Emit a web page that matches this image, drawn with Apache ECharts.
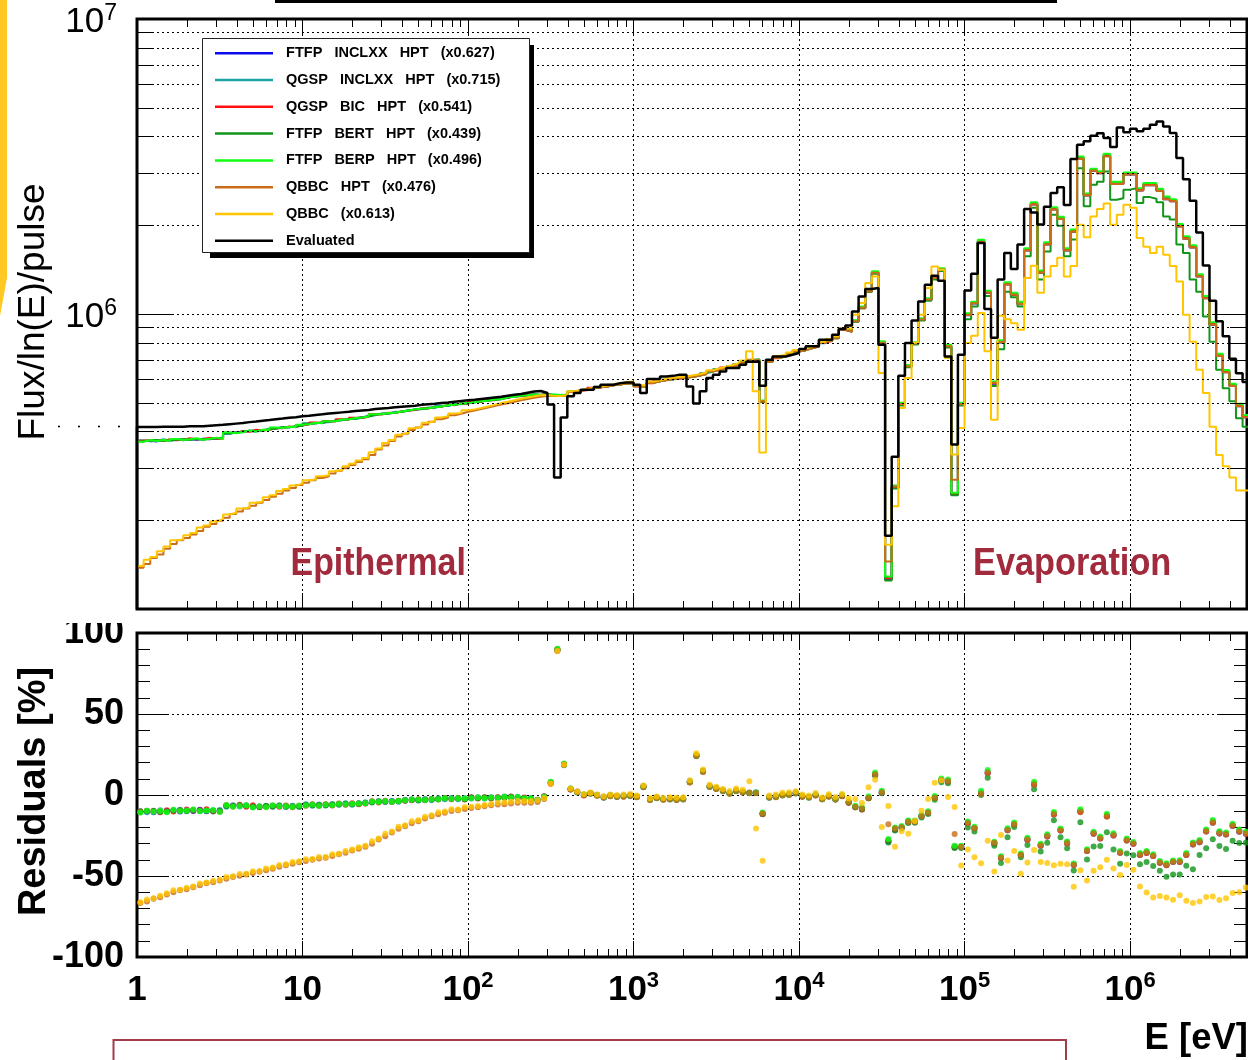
<!DOCTYPE html>
<html>
<head>
<meta charset="utf-8">
<title>Neutron flux: Geant4 physics lists vs evaluated spectrum</title>
<script src="https://cdn.jsdelivr.net/npm/echarts@6/dist/echarts.min.js"></script>
<style>
  html, body { margin: 0; padding: 0; background: #fff; }
  #chart { width: 1248px; height: 1060px; }
</style>
</head>
<body>
<div id="chart"></div>
<script>
// Logarithmic energy binning: 25 bins per decade starting at 1 eV.
const BINS_PER_DECADE = 25;
// Flux arrays below are Flux/ln(E)/pulse per bin, in units of 1e5.
const UNIT = 1e5;
const X_MIN = 1, X_MAX = 5.09e6;
const Y_MIN = 1e5, Y_MAX = 1e7;

const EVALUATED = [
  4.14,4.14,4.14,4.15,4.15,4.15,4.15,4.16,4.16,4.16,4.18,4.20,4.21,4.23,4.25,4.27,4.30,4.32,4.35,4.37,4.40,4.42,4.45,4.47,4.50,
  4.52,4.55,4.57,4.60,4.62,4.64,4.66,4.69,4.71,4.73,4.76,4.78,4.80,4.83,4.85,4.87,4.89,4.92,4.94,4.96,4.99,5.01,5.04,5.07,5.10,
  5.12,5.15,5.18,5.21,5.24,5.28,5.32,5.36,5.41,5.46,5.48,5.40,4.93,2.79,4.46,5.26,5.40,5.54,5.54,5.66,5.76,5.76,5.83,5.86,5.86,
  5.76,5.40,6.02,6.02,6.14,6.17,6.23,6.23,5.68,4.97,5.47,6.07,6.23,6.39,6.56,6.56,6.73,6.89,6.90,5.71,7.00,7.18,7.18,7.28,7.38,
  7.61,7.77,7.77,8.18,8.18,8.51,8.90,9.15,10.2,11.47,12.15,12.25,7.87,1.77,3.28,6.18,7.98,9.51,11.03,12.57,13.49,12.97,7.18,3.61,7.28,
  12.02,13.69,17.4,10.4,8.3,13.1,16.1,14.2,17.2,22.7,22.1,20.1,23.1,25.7,26.9,23.4,33.5,37.5,38.5,40.2,41.0,39.5,36.8,42.9,41.3,
  42.5,41.6,42.5,43.8,44.9,43.2,41.1,33.8,28.6,24.2,18.9,14.6,11.1,9.45,8.40,7.05,6.30,5.88
];

const FTFP_INCLXX_HPT = [
  3.71,3.72,3.70,3.73,3.74,3.76,3.73,3.77,3.75,3.78,3.76,3.80,3.79,3.95,3.97,3.99,4.01,4.00,4.04,4.06,4.10,4.12,4.14,4.15,4.19,
  4.24,4.27,4.28,4.32,4.34,4.38,4.40,4.43,4.47,4.50,4.56,4.58,4.61,4.64,4.66,4.72,4.74,4.77,4.80,4.82,4.87,4.90,4.93,4.96,4.98,
  5.03,5.06,5.09,5.12,5.15,5.21,5.25,5.28,5.31,5.33,5.30,5.35,5.30,5.28,5.30,5.45,5.50,5.54,5.60,5.65,5.68,5.74,5.78,5.82,5.84,
  5.70,5.68,5.85,5.92,5.98,6.02,6.06,6.08,6.14,6.18,6.27,6.39,6.48,6.56,6.63,6.73,6.85,6.98,7.00,5.05,6.90,7.10,7.18,7.30,7.47,
  7.55,7.66,7.77,7.98,8.12,8.29,8.85,8.73,9.44,10.48,11.93,13.77,7.98,1.26,2.57,4.93,6.64,7.93,9.57,11.18,13.24,14.13,7.77,2.44,4.93,
  9.9,10.85,17.55,11.8,5.8,8.0,12.6,11.6,10.8,16.4,23.5,13.8,17.2,22.6,21.0,16.4,19.0,33.6,25.2,30.6,30.0,34.3,27.6,27.6,29.7,
  29.7,26.2,27.3,27.3,26.1,24.5,24.1,19.8,18.0,16.8,13.4,11.3,9.20,7.2,6.35,5.7,4.87,4.47
];

const QGSP_INCLXX_HPT = [
  3.73,3.70,3.72,3.76,3.72,3.74,3.77,3.74,3.78,3.74,3.79,3.77,3.82,3.92,3.98,3.97,4.03,4.02,4.02,4.08,4.08,4.14,4.12,4.17,4.17,
  4.26,4.25,4.30,4.30,4.36,4.36,4.42,4.41,4.45,4.52,4.54,4.60,4.59,4.66,4.65,4.70,4.76,4.75,4.82,4.80,4.89,4.88,4.95,4.94,5.00,
  5.01,5.08,5.07,5.14,5.13,5.23,5.23,5.30,5.29,5.35,5.32,5.33,5.32,5.30,5.28,5.47,5.48,5.56,5.58,5.67,5.66,5.76,5.76,5.84,5.82,
  5.72,5.66,5.87,5.90,6.00,6.00,6.08,6.06,6.16,6.16,6.29,6.37,6.50,6.54,6.65,6.71,6.87,6.96,7.02,5.07,6.88,7.12,7.16,7.32,7.45,
  7.57,7.64,7.79,7.96,8.14,8.27,8.88,8.75,9.48,10.52,11.97,13.85,8.04,1.28,2.60,4.97,6.70,7.98,9.62,11.25,13.32,14.2,7.82,2.47,4.98,
  10.0,10.95,17.7,11.9,5.86,8.1,12.7,11.7,10.9,16.6,23.7,13.95,17.4,22.8,21.2,16.6,19.2,33.9,25.4,30.9,30.3,34.6,27.9,27.8,30.0,
  29.9,26.5,27.6,27.5,26.4,24.8,24.3,20.0,18.2,17.0,13.55,11.45,9.3,7.3,6.42,5.77,4.93,4.52
];

const QGSP_BIC_HPT = [
  3.72,3.74,3.73,3.71,3.76,3.73,3.75,3.79,3.76,3.77,3.81,3.78,3.78,3.96,3.95,4.01,3.99,4.05,4.03,4.05,4.11,4.10,4.16,4.13,4.20,
  4.22,4.29,4.27,4.34,4.32,4.40,4.38,4.45,4.44,4.48,4.58,4.56,4.63,4.62,4.68,4.70,4.73,4.79,4.78,4.84,4.85,4.92,4.91,4.98,4.96,
  5.05,5.04,5.11,5.10,5.17,5.19,5.27,5.26,5.33,5.31,5.32,5.36,5.28,5.30,5.31,5.44,5.52,5.52,5.62,5.63,5.70,5.72,5.80,5.80,5.86,
  5.68,5.70,5.83,5.94,5.96,6.04,6.04,6.10,6.12,6.20,6.25,6.41,6.46,6.58,6.61,6.75,6.83,7.00,6.98,5.03,6.92,7.08,7.20,7.28,7.49,
  7.53,7.68,7.75,8.00,8.10,8.31,8.83,8.71,9.46,10.45,11.9,13.8,8.0,1.27,2.58,4.95,6.67,7.95,9.6,11.2,13.28,14.18,7.8,2.45,4.95,
  9.95,10.9,17.6,11.85,5.83,8.05,12.65,11.65,10.85,16.5,23.6,13.85,17.3,22.7,21.1,16.5,19.1,33.7,25.3,30.7,30.1,34.4,27.7,27.7,29.8,
  29.8,26.3,27.4,27.4,26.2,24.6,24.2,19.9,18.1,16.9,13.45,11.35,9.25,7.25,6.38,5.73,4.9,4.49
];

const FTFP_BERT_HPT = [
  3.70,3.73,3.74,3.72,3.73,3.75,3.76,3.75,3.77,3.76,3.77,3.79,3.80,3.94,3.96,4.00,4.02,4.01,4.03,4.07,4.09,4.13,4.13,4.16,4.18,
  4.25,4.26,4.29,4.31,4.35,4.37,4.41,4.42,4.46,4.49,4.55,4.59,4.60,4.63,4.67,4.71,4.75,4.76,4.79,4.83,4.86,4.91,4.92,4.97,4.97,
  5.04,5.05,5.10,5.11,5.16,5.20,5.26,5.27,5.30,5.34,5.31,5.34,5.31,5.29,5.29,5.46,5.49,5.55,5.59,5.66,5.67,5.75,5.77,5.83,5.83,
  5.71,5.67,5.86,5.91,5.99,6.01,6.07,6.07,6.15,6.17,6.28,6.38,6.49,6.55,6.64,6.72,6.86,6.97,6.99,5.04,6.89,7.11,7.17,7.31,7.46,
  7.54,7.67,7.76,7.97,8.11,8.28,8.84,8.72,9.42,10.45,11.9,13.7,7.95,1.25,2.56,4.90,6.60,7.88,9.50,11.1,13.1,14.0,7.7,2.43,4.90,
  9.6,10.6,17.4,11.5,5.7,7.6,11.9,11.4,10.6,15.7,22.9,13.1,16.3,21.7,19.9,15.7,17.9,31.2,23.2,27.4,28.1,30.4,24.4,24.7,26.4,
  26.7,23.8,24.9,24.6,23.9,21.4,20.9,17.2,16.1,13.1,11.9,9.8,8.06,6.47,5.6,5.06,4.43,4.15
];

const FTFP_BERP_HPT = [
  3.69,3.74,3.71,3.74,3.71,3.77,3.74,3.76,3.79,3.75,3.78,3.81,3.77,3.97,3.94,3.98,4.02,3.99,4.05,4.04,4.12,4.11,4.15,4.14,4.21,
  4.23,4.28,4.26,4.33,4.33,4.39,4.39,4.44,4.46,4.49,4.57,4.57,4.62,4.63,4.67,4.71,4.75,4.78,4.79,4.83,4.86,4.91,4.92,4.97,4.99,
  5.02,5.07,5.08,5.13,5.14,5.22,5.24,5.29,5.30,5.34,5.31,5.34,5.33,5.31,5.33,5.46,5.51,5.55,5.61,5.64,5.69,5.73,5.79,5.81,5.85,
  5.69,5.69,5.84,5.93,5.97,6.03,6.05,6.09,6.13,6.19,6.26,6.40,6.47,6.57,6.62,6.74,6.84,6.99,7.01,5.09,6.91,7.09,7.19,7.29,7.48,
  7.56,7.65,7.78,7.99,8.13,8.30,8.90,8.78,9.52,10.6,12.05,13.95,8.08,1.29,2.62,5.00,6.72,8.02,9.68,11.3,13.4,14.3,7.87,2.48,5.0,
  10.05,11.0,17.85,12.0,5.9,8.15,12.8,11.8,11.0,16.7,23.9,14.05,17.5,23.0,21.35,16.7,19.35,34.2,25.6,31.1,30.5,34.9,28.1,28.1,30.2,
  30.2,26.7,27.8,27.8,26.6,25.0,24.5,20.2,18.35,17.1,13.65,11.5,9.38,7.33,6.46,5.8,4.96,4.55
];

const QBBC_HPT = [
  1.38,1.42,1.49,1.53,1.60,1.66,1.71,1.74,1.79,1.84,1.90,1.94,1.99,2.04,2.10,2.14,2.19,2.24,2.29,2.34,2.40,2.46,2.52,2.57,2.63,
  2.68,2.73,2.78,2.82,2.88,2.94,3.00,3.08,3.15,3.22,3.33,3.47,3.58,3.71,3.84,3.93,4.04,4.12,4.22,4.31,4.40,4.46,4.54,4.59,4.66,
  4.71,4.76,4.82,4.88,4.93,4.98,5.04,5.10,5.15,5.20,5.24,5.27,5.27,5.27,5.29,5.44,5.49,5.53,5.59,5.64,5.67,5.73,5.77,5.81,5.83,
  5.69,5.67,5.84,5.91,5.97,6.01,6.05,6.07,6.13,6.17,6.26,6.38,6.47,6.55,6.62,6.72,6.84,6.97,6.99,5.06,6.89,7.09,7.17,7.29,7.46,
  7.54,7.65,7.76,7.97,8.11,8.28,8.84,8.74,9.45,10.5,11.95,13.8,7.99,1.45,2.60,4.94,6.65,7.94,9.58,11.2,13.25,14.15,7.78,2.74,4.94,
  9.92,10.87,17.5,11.82,5.85,8.02,12.6,11.62,10.82,16.4,23.5,13.8,17.2,22.6,21.0,16.4,19.0,33.5,25.2,30.6,30.0,34.2,27.6,27.6,29.7,
  29.7,26.2,27.3,27.3,26.1,24.5,24.1,19.8,18.0,16.8,13.4,11.3,9.2,7.2,6.35,5.7,4.87,4.47
];

const QBBC = [
  1.40,1.47,1.50,1.57,1.63,1.71,1.72,1.78,1.81,1.89,1.92,1.98,2.01,2.09,2.12,2.19,2.21,2.29,2.31,2.39,2.43,2.51,2.55,2.62,2.66,
  2.73,2.75,2.82,2.84,2.93,2.96,3.05,3.11,3.19,3.25,3.40,3.50,3.65,3.74,3.90,3.96,4.10,4.15,4.28,4.34,4.46,4.50,4.60,4.62,4.72,
  4.75,4.80,4.86,4.92,4.99,5.04,5.10,5.16,5.21,5.26,5.30,5.30,5.28,5.27,5.29,5.47,5.52,5.57,5.62,5.68,5.72,5.78,5.82,5.88,5.90,
  5.74,5.72,5.90,5.96,6.03,6.08,6.12,6.14,6.20,6.25,6.33,6.45,6.55,6.63,6.72,6.82,6.95,7.47,5.47,3.39,6.98,7.20,7.28,7.40,7.55,
  7.63,7.75,7.86,8.06,8.22,8.40,8.95,8.95,9.95,10.90,12.74,13.41,6.31,1.65,2.23,4.80,6.07,7.99,9.95,12.25,14.50,14.13,7.09,3.34,4.11,
  7.97,8.44,10.07,7.47,4.38,9.86,9.6,9.3,8.85,13.25,14.58,11.8,13.4,14.55,15.5,13.4,14.55,20.08,18.2,21.4,22.7,23.7,20.08,21.71,23.47,
  22.9,18.1,16.9,16.1,16.9,15.89,14.55,12.9,9.94,8.06,6.47,5.40,4.15,3.33,3.05,2.79,2.52,2.52
];

const MODEL_NAMES = [
  'FTFP INCLXX HPT (x0.627)', 'QGSP INCLXX HPT (x0.715)', 'QGSP BIC HPT (x0.541)', 'FTFP BERT HPT (x0.439)',
  'FTFP BERP HPT (x0.496)', 'QBBC HPT (x0.476)', 'QBBC (x0.613)'
];
const MODEL_COLORS = ['#0a0aea', '#1ea5a5', '#ff1010', '#12951a', '#10ff10', '#cb6c18', '#ffc600'];
const MODEL_VALUES = [FTFP_INCLXX_HPT, QGSP_INCLXX_HPT, QGSP_BIC_HPT, FTFP_BERT_HPT, FTFP_BERP_HPT, QBBC_HPT, QBBC];
const EVAL_NAME = 'Evaluated';

const FONT = '"Liberation Sans", Arial, Helvetica, sans-serif';

// Bin edges and helpers
const NBINS = EVALUATED.length;
const EDGES = [];
for (let k = 0; k <= NBINS; k++) EDGES.push(Math.pow(10, k / BINS_PER_DECADE));

// Histogram outline: starts at the frame bottom, then a flat top per bin.
function histogram(vals) {
  const pts = [[EDGES[0], Y_MIN]];
  vals.forEach((v, k) => {
    pts.push([EDGES[k], v * UNIT]);
    pts.push([EDGES[k + 1], v * UNIT]);
  });
  return pts;
}
// Residuals in percent, (model - evaluated) / evaluated, at bin centres.
function residuals(vals) {
  return vals.map((v, k) => [Math.sqrt(EDGES[k] * EDGES[k + 1]), 100 * (v - EVALUATED[k]) / EVALUATED[k]]);
}

// Sub-decade tick positions (2..9 x 10^n) for the log axes.
const X_MINOR = [];
for (let d = 0; d <= 6; d++) for (let m = 2; m <= 9; m++) { const v = m * Math.pow(10, d); if (v < X_MAX) X_MINOR.push(v); }
const Y_MINOR = [];
for (let d = 5; d <= 6; d++) for (let m = 2; m <= 9; m++) Y_MINOR.push(m * Math.pow(10, d));

function isDecade(v) { const e = Math.log10(v); return Math.abs(e - Math.round(e)) < 1e-6; }
function powerLabel(v, pre) {
  if (!isDecade(v)) return '';
  const e = Math.round(Math.log10(v));
  if (e === 0) return '{' + pre + 'b|1}';
  if (e === 1) return '{' + pre + 'b|10}';
  return '{' + pre + 'b|10}{' + pre + 's|' + e + '}';
}

const DOTTED = { color: '#000', width: 1, type: [2, 3] };
const px = v => Math.round(v) + 0.5;

function xMinorSeries(xi, yi, yRef, len) {
  return {
    type: 'custom', xAxisIndex: xi, yAxisIndex: yi, silent: true, z: 3, animation: false,
    data: X_MINOR.map(v => [v, yRef]),
    renderItem(params, api) {
      const cs = params.coordSys;
      const x = px(api.coord([api.value(0), api.value(1)])[0]);
      const b = cs.y + cs.height;
      const st = { stroke: '#000', lineWidth: 1 };
      return { type: 'group', children: [
        { type: 'line', shape: { x1: x, y1: b, x2: x, y2: b - len }, style: st },
        { type: 'line', shape: { x1: x, y1: cs.y, x2: x, y2: cs.y + len }, style: st }
      ] };
    }
  };
}

function yMinorSeries() {
  return {
    type: 'custom', xAxisIndex: 0, yAxisIndex: 0, silent: true, z: 3, animation: false,
    data: Y_MINOR.map(v => [10, v]),
    renderItem(params, api) {
      const cs = params.coordSys;
      const y = px(api.coord([api.value(0), api.value(1)])[1]);
      const r = cs.x + cs.width;
      const st = { stroke: '#000', lineWidth: 1 };
      return { type: 'group', children: [
        { type: 'line', shape: { x1: cs.x, y1: y, x2: r, y2: y }, style: { stroke: '#000', lineWidth: 1, lineDash: [2, 3] } },
        { type: 'line', shape: { x1: cs.x, y1: y, x2: cs.x + 17, y2: y }, style: st },
        { type: 'line', shape: { x1: r - 17, y1: y, x2: r, y2: y }, style: st }
      ] };
    }
  };
}

const GRID_LEFT = 137, GRID_WIDTH = 1110;

function logX(gridIndex, position, showLabels, split) {
  return {
    type: 'log', logBase: 10, gridIndex, position, min: X_MIN, max: X_MAX,
    axisLine: { show: false, onZero: false },
    axisTick: { show: true, inside: true, length: 16, lineStyle: { color: '#000', width: 1 } },
    splitLine: { show: split, lineStyle: DOTTED },
    axisLabel: showLabels ? {
      show: true, margin: 13, color: '#000', formatter: v => powerLabel(v, 'x'),
      rich: {
        xb: { fontFamily: FONT, fontWeight: 'bold', fontSize: 35, lineHeight: 40, color: '#000' },
        xs: { fontFamily: FONT, fontWeight: 'bold', fontSize: 22, lineHeight: 11, verticalAlign: 'top', color: '#000' }
      }
    } : { show: false }
  };
}

const series = [];
// Flux histograms (upper panel)
MODEL_NAMES.forEach((name, i) => {
  series.push({
    name, type: 'line', xAxisIndex: 0, yAxisIndex: 0, data: histogram(MODEL_VALUES[i]),
    symbol: 'none', showSymbol: false, clip: true, silent: true, animation: false, z: 2,
    lineStyle: { color: MODEL_COLORS[i], width: 2 }, itemStyle: { color: MODEL_COLORS[i] },
    emphasis: { disabled: true }
  });
});
series.push({
  name: EVAL_NAME, type: 'line', xAxisIndex: 0, yAxisIndex: 0, data: histogram(EVALUATED),
  symbol: 'none', showSymbol: false, clip: true, silent: true, animation: false, z: 2,
  lineStyle: { color: '#000', width: 2.5 }, itemStyle: { color: '#000' }, emphasis: { disabled: true }
});
// Residual points (lower panel)
MODEL_NAMES.forEach((name, i) => {
  series.push({
    name: name + ' residuals', type: 'scatter', xAxisIndex: 1, yAxisIndex: 1, data: residuals(MODEL_VALUES[i]),
    symbol: 'circle', symbolSize: 6, clip: true, silent: true, animation: false, z: 2,
    itemStyle: { color: MODEL_COLORS[i] }, emphasis: { disabled: true }
  });
});
series.push(xMinorSeries(0, 0, 1e6, 8));
series.push(xMinorSeries(1, 1, 0, 8));
series.push(yMinorSeries());

const chart = echarts.init(document.getElementById('chart'), null, { renderer: 'canvas' });
chart.setOption({
  backgroundColor: '#fff',
  animation: false,
  textStyle: { fontFamily: FONT },
  grid: [
    { left: GRID_LEFT, top: 19, width: GRID_WIDTH, height: 590, show: true, borderColor: '#000', borderWidth: 3,
      backgroundColor: 'transparent', containLabel: false, outerBoundsMode: 'none' },
    { left: GRID_LEFT, top: 633, width: GRID_WIDTH, height: 324, show: true, borderColor: '#000', borderWidth: 3,
      backgroundColor: 'transparent', containLabel: false, outerBoundsMode: 'none' }
  ],
  xAxis: [
    logX(0, 'bottom', false, true),
    logX(1, 'bottom', true, true),
    logX(0, 'top', false, false),
    logX(1, 'top', false, false)
  ],
  yAxis: [
    { type: 'log', logBase: 10, gridIndex: 0, position: 'left', min: Y_MIN, max: Y_MAX,
      axisLine: { show: false, onZero: false },
      axisTick: { show: true, inside: true, length: 35, lineStyle: { color: '#000', width: 1 } },
      splitLine: { show: true, lineStyle: DOTTED },
      axisLabel: { show: true, margin: 20, padding: [6, 0, 0, 0], color: '#000',
        formatter: v => (v >= 1e6 ? powerLabel(v, 'y') : ''),
        rich: {
          yb: { fontFamily: FONT, fontSize: 35, lineHeight: 40, color: '#000' },
          ys: { fontFamily: FONT, fontSize: 23, lineHeight: 15, verticalAlign: 'top', color: '#000' }
        } } },
    { type: 'value', gridIndex: 1, position: 'left', min: -100, max: 100, interval: 50,
      axisLine: { show: false, onZero: false },
      axisTick: { show: true, inside: true, length: 30, lineStyle: { color: '#000', width: 1 } },
      minorTick: { show: true, splitNumber: 5, length: 13, lineStyle: { color: '#000', width: 1 } },
      splitLine: { show: true, lineStyle: DOTTED },
      axisLabel: { show: true, margin: 13, color: '#000', fontFamily: FONT, fontWeight: 'bold', fontSize: 36 } },
    { type: 'log', logBase: 10, gridIndex: 0, position: 'right', min: Y_MIN, max: Y_MAX,
      axisLine: { show: false, onZero: false },
      axisTick: { show: true, inside: true, length: 35, lineStyle: { color: '#000', width: 1 } },
      splitLine: { show: false }, axisLabel: { show: false } },
    { type: 'value', gridIndex: 1, position: 'right', min: -100, max: 100, interval: 50,
      axisLine: { show: false, onZero: false },
      axisTick: { show: true, inside: true, length: 30, lineStyle: { color: '#000', width: 1 } },
      minorTick: { show: true, splitNumber: 5, length: 13, lineStyle: { color: '#000', width: 1 } },
      splitLine: { show: false }, axisLabel: { show: false } }
  ],
  legend: {
    data: MODEL_NAMES.concat([EVAL_NAME]),
    orient: 'vertical', left: 215, top: 45.3, padding: 0, itemGap: 10.77,
    itemWidth: 58, itemHeight: 2.5, icon: 'rect', selectedMode: false, z: 20,
    textStyle: { fontFamily: FONT, fontWeight: 'bold', fontSize: 14.5, color: '#000', lineHeight: 16 },
    formatter: name => '  ' + name.split(' ').join('   ')
  },
  graphic: [
    // legend frame with its drop shadow
    { type: 'rect', z: 15, silent: true, shape: { x: 210, y: 45, width: 324, height: 213 }, style: { fill: '#000' } },
    { type: 'rect', z: 16, silent: true, shape: { x: 202.5, y: 38.5, width: 327, height: 214 },
      style: { fill: '#fff', stroke: '#222', lineWidth: 1 } },
    // page decorations around the figure
    { type: 'polygon', z: 30, silent: true, shape: { points: [[0, 0], [7, 0], [7, 278], [0, 316]] }, style: { fill: '#ffc823' } },
    { type: 'rect', z: 30, silent: true, shape: { x: 275, y: 0, width: 782, height: 3 }, style: { fill: '#000' } },
    { type: 'line', z: 30, silent: true, shape: { x1: 58, y1: 426.5, x2: 132, y2: 426.5 },
      style: { stroke: '#000', lineWidth: 1.5, lineDash: [2, 18] } },
    { type: 'rect', z: 30, silent: true, shape: { x: 36, y: 603, width: 97, height: 20 }, style: { fill: '#fff' } },
    { type: 'rect', z: 30, silent: true, shape: { x: 113.5, y: 1040, width: 952.5, height: 40 },
      style: { fill: 'none', stroke: '#a33b49', lineWidth: 2 } },
    // axis titles
    { type: 'text', z: 30, silent: true, x: 34, y: 312, rotation: Math.PI / 2,
      style: { text: 'Flux/ln(E)/pulse', font: '37px ' + FONT, fill: '#000',
        align: 'center', verticalAlign: 'middle', textAlign: 'center', textVerticalAlign: 'middle' } },
    { type: 'text', z: 30, silent: true, x: 35, y: 791.5, rotation: Math.PI / 2,
      style: { text: 'Residuals [%]', font: 'bold 38px ' + FONT, fill: '#000',
        align: 'center', verticalAlign: 'middle', textAlign: 'center', textVerticalAlign: 'middle' } },
    { type: 'text', z: 30, silent: true, x: 1248, y: 1039,
      style: { text: 'E [eV]', font: 'bold 36.5px ' + FONT, fill: '#000',
        align: 'right', verticalAlign: 'middle', textAlign: 'right', textVerticalAlign: 'middle' } },
    // region labels
    { type: 'text', z: 30, silent: true, x: 290.5, y: 564, scaleX: 0.87,
      style: { text: 'Epithermal', font: 'bold 39px ' + FONT, fill: '#a12a3d',
        align: 'left', verticalAlign: 'middle', textAlign: 'left', textVerticalAlign: 'middle' } },
    { type: 'text', z: 30, silent: true, x: 973, y: 564, scaleX: 0.88,
      style: { text: 'Evaporation', font: 'bold 39px ' + FONT, fill: '#a12a3d',
        align: 'left', verticalAlign: 'middle', textAlign: 'left', textVerticalAlign: 'middle' } }
  ],
  series
});
</script>
</body>
</html>
